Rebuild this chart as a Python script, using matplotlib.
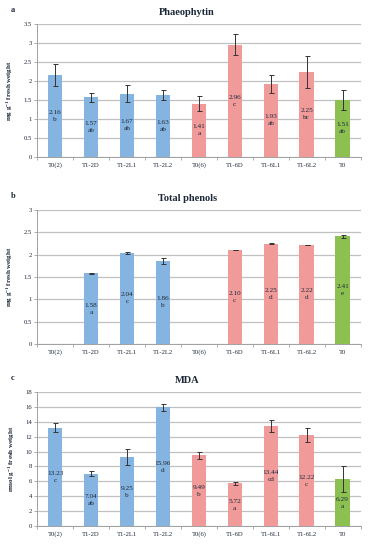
import numpy as np
import matplotlib.pyplot as plt
from matplotlib.ticker import FixedLocator

plt.rcParams['font.family'] = ['Liberation Serif', 'DejaVu Serif']
plt.rcParams['mathtext.default'] = 'regular'

categories = ['T0(2)', 'T1-2D', 'T1-2L1', 'T1-2L2', 'T0(6)', 'T1-6D', 'T1-6L1', 'T1-6L2', 'T0']

phaeo_vals = [2.16, 1.57, 1.67, 1.63, 1.41, 2.96, 1.93, 2.25, 1.51]
phaeo_err = [0.28, 0.12, 0.23, 0.13, 0.20, 0.28, 0.23, 0.42, 0.26]
phaeo_let = ['b', 'ab', 'ab', 'ab', 'a', 'c', 'ab', 'bc', 'ab']

phen_vals = [np.nan, 1.58, 2.04, 1.86, np.nan, 2.10, 2.25, 2.22, 2.41]
phen_err = [0, 0.02, 0.02, 0.06, 0, 0.005, 0.005, 0.005, 0.03]
phen_let = ['', 'a', 'c', 'b', '', 'c', 'd', 'd', 'e']

mda_vals = [13.23, 7.04, 9.25, 15.96, 9.49, 5.72, 13.44, 12.22, 6.29]
mda_err = [0.6, 0.35, 1.05, 0.45, 0.5, 0.25, 0.85, 0.95, 1.75]
mda_let = ['c', 'ab', 'b', 'd', 'b', 'a', 'cd', 'c', 'a']

blue, pink, green = '#85b4e0', '#f09a9a', '#8cc152'
bar_colors = [blue] * 4 + [pink] * 4 + [green]
text_col = '#1c2838'

panels = [
    ('a', 'Phaeophytin', phaeo_vals, phaeo_err, phaeo_let, 3.5, 0.5, 'mg g$^{-1}$ fresh weight',
     [0.101, 0.7145, 0.876, 0.2415]),
    ('b', 'Total phenols', phen_vals, phen_err, phen_let, 3.0, 0.5, 'mg g$^{-1}$ fresh weight',
     [0.101, 0.3745, 0.876, 0.2436]),
    ('c', 'MDA', mda_vals, mda_err, mda_let, 18, 2, 'nmol g$^{-1}$ fresh weight',
     [0.101, 0.0436, 0.876, 0.2436]),
]

fig = plt.figure(figsize=(3.69, 5.5), dpi=100)
x = np.arange(len(categories))

for letter, title, vals, errs, lets, ymax, step, ylabel, rect in panels:
    ax = fig.add_axes(rect)
    top = rect[1] + rect[3]
    v = np.array(vals, dtype=float)
    ax.bar(x, np.nan_to_num(v), width=0.4, color=bar_colors, zorder=2)
    ok = ~np.isnan(v)
    ax.errorbar(x[ok], v[ok], yerr=np.array(errs)[ok], fmt='none', ecolor='#333333',
                elinewidth=0.7, capsize=1.8, capthick=0.7, zorder=3)
    for xi, val, lt in zip(x, v, lets):
        if np.isnan(val):
            continue
        ax.text(xi, val / 2, f'{val:.2f}\n{lt}', ha='center', va='center',
                fontsize=5.2, color=text_col, linespacing=1.5, zorder=4)
    ax.set_xlim(-0.5, len(categories) - 0.5)
    ax.set_ylim(0, ymax)
    ticks = np.arange(0, ymax + step / 2, step)
    ax.set_yticks(ticks)
    ax.set_yticklabels([f'{t:g}' for t in ticks])
    ax.yaxis.grid(True, color='#c0c0c0', linewidth=0.9, zorder=0)
    ax.set_axisbelow(True)
    ax.set_xticks(x)
    ax.set_xticklabels(categories)
    ax.xaxis.set_minor_locator(FixedLocator(np.arange(-0.5, len(categories), 1.0)))
    ax.tick_params(axis='x', which='major', length=0, labelsize=4.8, pad=4, colors=text_col)
    ax.tick_params(axis='x', which='minor', length=2.5, color='#a0a0a0', width=0.6)
    ax.tick_params(axis='y', length=2, width=0.6, labelsize=4.8, pad=2,
                   colors='#a0a0a0', labelcolor=text_col)
    for s in ['top', 'right']:
        ax.spines[s].set_visible(False)
    for s in ['left', 'bottom']:
        ax.spines[s].set_color('#a0a0a0')
        ax.spines[s].set_linewidth(0.7)
    ax.set_ylabel(ylabel, fontsize=5, fontweight='bold', color=text_col, labelpad=6)
    fig.text(0.507, top + 0.021, title, ha='center', va='center', fontsize=7.5,
             fontweight='bold', color=text_col)
    fig.text(0.03, top + 0.025, letter, ha='left', va='center', fontsize=6,
             fontweight='bold', color=text_col)

fig.savefig('out.png', dpi=100)
